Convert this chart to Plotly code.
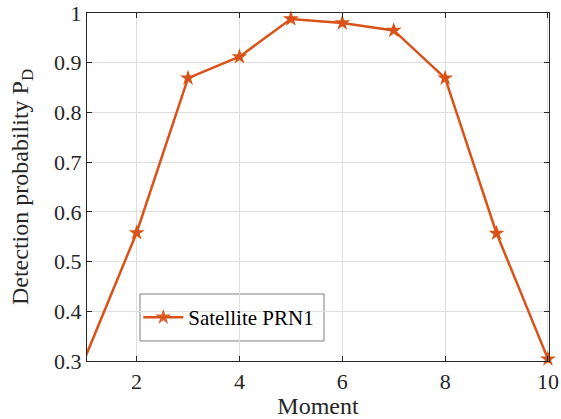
import plotly.graph_objects as go

# Detection probability of satellite PRN1 across observation moments
moments = [1, 2, 3, 4, 5, 6, 7, 8, 9, 10]
pd_prn1 = [0.307, 0.558, 0.869, 0.912, 0.988, 0.980, 0.965, 0.869, 0.557, 0.304]
series_name = "Satellite PRN1"

x_ticks = [2, 4, 6, 8, 10]
y_ticks = [0.3, 0.4, 0.5, 0.6, 0.7, 0.8, 0.9, 1.0]
y_tick_text = ["0.3", "0.4", "0.5", "0.6", "0.7", "0.8", "0.9", "1"]

x_range = [1.035, 10.02]
y_range = [0.3, 1.0]

line_color = "#D95319"
text_color = "#262626"
font_family = "Liberation Serif"

# hide markers that fall outside the visible x-range
marker_opacity = [1 if x_range[0] <= m <= x_range[1] else 0 for m in moments]

fig = go.Figure()
fig.add_trace(go.Scatter(
    x=moments, y=pd_prn1, name=series_name,
    mode="lines+markers",
    line=dict(color=line_color, width=2.5),
    marker=dict(symbol="star", size=12, color=line_color, opacity=marker_opacity,
                line=dict(width=0)),
    cliponaxis=False,
))

axis_common = dict(
    showline=True, linecolor="#262626", linewidth=1.2, mirror="ticks",
    ticks="inside", ticklen=5, tickcolor="#262626", tickwidth=1,
    showgrid=True, gridcolor="#dedede", gridwidth=1,
    zeroline=False, automargin=False,
    tickfont=dict(family=font_family, size=22, color=text_color),
)

fig.update_xaxes(
    range=x_range, tickvals=x_ticks,
    title=dict(text="Moment", font=dict(family=font_family, size=24, color=text_color), standoff=10),
    **axis_common,
)
fig.update_yaxes(
    range=y_range, tickvals=y_ticks, ticktext=y_tick_text,
    title=dict(text="Detection probability P<sub>D</sub>",
               font=dict(family=font_family, size=24, color=text_color), standoff=18),
    **axis_common,
)

# legend frame, drawn beneath the data so the grid stays hidden behind it
fig.add_shape(
    type="rect", xref="paper", yref="paper",
    x0=0.1147, x1=0.513, y0=0.0575, y1=0.1925,
    fillcolor="white", line=dict(color="#7f7f7f", width=1), layer="below",
)

fig.update_layout(
    width=561, height=419,
    margin=dict(l=87, r=12, t=13, b=58),
    plot_bgcolor="white", paper_bgcolor="white",
    font=dict(family=font_family, color=text_color),
    showlegend=True,
    legend=dict(
        x=0.111, y=0.125, xanchor="left", yanchor="middle",
        bgcolor="rgba(0,0,0,0)", borderwidth=0,
        font=dict(family=font_family, size=21, color="#000000"),
        itemwidth=40,
    ),
)

fig.write_html("out.html")
